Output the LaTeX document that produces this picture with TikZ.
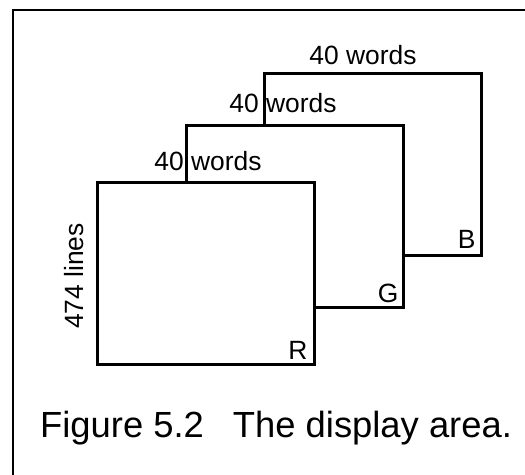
\documentclass[tikz,border=0pt]{standalone}
\usepackage{fontspec}
\setmainfont{Liberation Sans}
\begin{document}
\begin{tikzpicture}[x=1bp,y=-1bp,
  screen/.style={draw,line width=2.6bp,fill=white,inner sep=0pt,
    minimum width=217bp,minimum height=182bp,anchor=north west},
  lbl/.style={font=\fontsize{26.5}{30}\selectfont,inner sep=0pt},
  captext/.style={font=\fontsize{36.5}{40}\selectfont,inner sep=0pt},
  framestyle/.style={line width=2.6bp}]
\useasboundingbox (0,0) rectangle (525,475);
\coordinate (ftr) at (525,10);
\coordinate (ftl) at (13,10);
\coordinate (fbl) at (13,475);
\draw[framestyle] (ftr) -- (ftl) -- (fbl);
\node[screen] (B) at (263,72) {};
\node[screen] (G) at (185,124) {};
\node[screen] (R) at (96,181) {};
\node[lbl,anchor=south east] (Bl) at ([shift={(-7,-8)}]B.south east) {B};
\node[lbl,anchor=south east] (Gl) at ([shift={(-6,-6)}]G.south east) {G};
\node[lbl,anchor=south east] (Rl) at ([shift={(-8,-6)}]R.south east) {R};
\node[lbl,anchor=base] (wB) at (363,65) {40 words};
\node[lbl,anchor=base] (wG) at (283,113) {40 words};
\node[lbl,anchor=base] (wR) at (208,171) {40 words};
\node[lbl,anchor=base,rotate=90] (lines) at (83,276) {474 lines};
\node[captext,anchor=base west] (caption) at (40,437) {Figure 5.2\hspace{0.8em}The display area.};
\end{tikzpicture}
\end{document}
